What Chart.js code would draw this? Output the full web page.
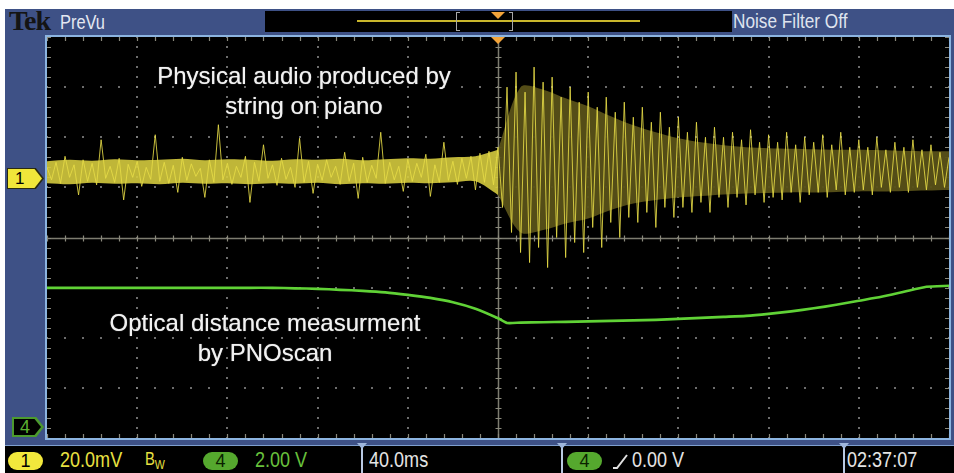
<!DOCTYPE html>
<html><head><meta charset="utf-8">
<script src="https://cdn.jsdelivr.net/npm/chart.js@4.4.0/dist/chart.umd.min.js"></script>
<style>
html,body{margin:0;padding:0;background:#fff;}
body{width:954px;height:473px;position:relative;overflow:hidden;font-family:"Liberation Sans",Arial,sans-serif;}
.abs{position:absolute;white-space:nowrap;}
.nar{transform:scaleX(0.82);transform-origin:0 50%;}
#scope{left:5px;top:9px;width:949px;height:464px;background:#3e5186;}
#frame{left:45px;top:35px;width:902px;height:401px;border:2px solid #8cb4e0;background:#000;}
#plot{left:47px;top:37px;width:902px;height:401px;}
#status{left:5px;top:445px;width:949px;height:28px;background:#000;border-top:1px solid #7f9fcf;}
.sep{top:446px;width:2px;height:27px;background:#b9c9e2;}
.notch{top:443px;width:0;height:0;border-left:5px solid transparent;border-right:5px solid transparent;border-top:6px solid #9fb6dc;}
.pill{top:452px;height:18px;width:35px;border-radius:9px;text-align:center;font-size:18px;line-height:19px;}
.st{top:447px;font-size:22px;line-height:25px;}
.note{color:#f2f2f2;font-family:"Liberation Sans",Arial,sans-serif;font-size:24px;text-align:center;text-shadow:0 0 1px rgba(255,255,255,.6);}
</style>
</head><body>
<div id="scope" class="abs"></div>
<!-- top bar -->
<div class="abs" style="left:9px;top:6px;font-family:'Liberation Serif',serif;font-weight:bold;font-size:28px;line-height:30px;color:#141414;letter-spacing:-1px;">Tek</div>
<div class="abs nar" style="left:60px;top:10px;font-size:20px;line-height:24px;color:#e4e8f2;">PreVu</div>
<div class="abs" style="left:265px;top:11px;width:467px;height:21px;background:#000;"></div>
<div class="abs" style="left:357px;top:20px;width:283px;height:2px;background:#c9b62b;"></div>
<div class="abs" style="left:456px;top:12px;width:3px;height:17px;border:1px solid #a8a8a8;border-right:none;"></div>
<div class="abs" style="left:509px;top:12px;width:3px;height:17px;border:1px solid #a8a8a8;border-left:none;"></div>
<div class="abs" style="left:491px;top:12px;width:0;height:0;border-left:7px solid transparent;border-right:7px solid transparent;border-top:7px solid #f3a43a;"></div>
<div class="abs nar" style="left:733px;top:9px;font-size:21px;line-height:24px;color:#dfe4ee;">Noise Filter Off</div>

<div id="frame" class="abs"></div>
<div id="plot" class="abs"><canvas id="c"></canvas></div>

<!-- channel markers -->
<div class="abs" style="left:7px;top:168px;width:37px;height:21px;background:#2a2a10;clip-path:polygon(0 0,78% 0,100% 50%,78% 100%,0 100%);"></div>
<div class="abs" style="left:8px;top:169px;width:34px;height:19px;background:#f0e63a;clip-path:polygon(0 0,78% 0,100% 50%,78% 100%,0 100%);font-size:17px;line-height:19px;color:#000;text-indent:7px;">1</div>
<div class="abs" style="left:12px;top:417px;width:32px;height:20px;background:#4c9a2e;clip-path:polygon(0 0,76% 0,100% 50%,76% 100%,0 100%);"></div>
<div class="abs" style="left:14px;top:419px;width:27px;height:16px;background:#000;clip-path:polygon(0 0,76% 0,100% 50%,76% 100%,0 100%);font-size:18px;line-height:17px;color:#5cb032;text-indent:6px;">4</div>

<!-- annotations -->
<div class="abs note" style="left:104px;top:61px;width:400px;line-height:30px;">Physical audio produced by<br>string on piano</div>
<div class="abs note" style="left:65px;top:308px;width:400px;line-height:30px;">Optical distance measurment<br>by PNOscan</div>

<!-- status bar -->
<div id="status" class="abs"></div>
<div class="abs pill" style="left:8px;background:#f2e83c;color:#000;">1</div>
<div class="abs st nar" style="left:60px;color:#e8e040;">20.0mV</div>
<div class="abs st nar" style="left:145px;color:#e8e040;font-size:18px;">B<sub style="font-size:13px;vertical-align:-4px;">W</sub></div>
<div class="abs pill" style="left:203px;background:#55a82e;color:#0a2200;">4</div>
<div class="abs st nar" style="left:255px;color:#68c03c;">2.00 V</div>
<div class="abs sep" style="left:361px;"></div><div class="abs notch" style="left:357px;"></div>
<div class="abs st nar" style="left:369px;color:#e4e4e4;">40.0ms</div>
<div class="abs sep" style="left:561px;"></div><div class="abs notch" style="left:557px;"></div>
<div class="abs pill" style="left:567px;background:#55a82e;color:#0a2200;">4</div>
<svg class="abs" style="left:612px;top:452px;" width="18" height="18"><polyline points="1,16 5,16 15,3" fill="none" stroke="#e0e0e0" stroke-width="2"/></svg>
<div class="abs st nar" style="left:632px;color:#e4e4e4;">0.00 V</div>
<div class="abs sep" style="left:843px;"></div><div class="abs notch" style="left:839px;"></div>
<div class="abs st nar" style="left:847px;color:#e4e4e4;">02:37:07</div>

<script>
// ---- data (vertical unit: screen divisions, 0 = centre line; time in ms, 0 = trigger) ----
const SAMPLE_MS = 2;          // channel 1 sample spacing
const T_START = -200;         // left edge of record, ms
const ch1Audio = [
 1.40,1.15,1.50,1.08,1.62,1.20,1.45,0.85,1.55,1.12,
 1.48,1.05,1.95,1.18,1.42,1.10,1.58,0.75,1.46,1.20,
 1.52,1.02,1.40,1.16,2.05,1.12,1.50,1.08,1.44,0.90,
 1.60,1.14,1.47,1.22,1.38,0.80,1.55,1.10,2.25,1.15,
 1.48,1.06,1.42,1.20,1.62,0.70,1.50,1.12,1.85,1.18,
 1.45,1.04,1.58,1.16,1.40,1.00,1.98,1.10,1.52,0.88,
 1.46,1.14,1.55,1.20,1.42,1.06,1.70,1.12,1.48,0.78,
 1.60,1.10,1.44,1.18,2.10,1.08,1.50,1.15,1.42,0.92,
 1.56,1.12,1.48,1.20,1.66,0.82,1.45,1.10,1.90,1.14,
 1.52,1.06,1.58,1.18,1.62,0.95,1.68,1.10,1.72,1.05,
 1.80,
 0.60,3.00,0.10,3.30,-0.30,2.90,-0.50,3.40,-0.20,3.10,
 -0.60,3.20,0.00,2.80,-0.40,3.00,-0.10,2.70,-0.30,2.90,
 0.20,2.60,-0.20,2.80,0.30,2.50,0.00,2.70,0.40,2.40,
 0.30,2.60,0.50,2.30,0.20,2.50,0.60,2.20,0.40,2.40,
 0.60,2.10,0.50,2.30,0.70,2.00,0.50,2.20,0.80,2.00,
 0.60,2.10,0.80,1.95,0.65,2.15,0.85,1.90,0.70,2.05,
 0.80,1.90,0.75,2.10,0.90,1.85,0.70,2.00,0.85,1.90,
 0.90,2.05,0.80,1.85,0.95,2.10,0.85,1.80,0.90,1.95,
 0.95,1.80,0.85,2.00,1.00,1.75,0.90,1.90,1.00,1.80,
 0.90,1.95,1.00,1.75,0.95,1.85,1.05,1.70,1.00,1.60
];
const envTimes = [-200,-190,-180,-170,-160,-150,-140,-130,-120,-110,-100,-90,-80,-70,-60,-50,-40,-30,-20,-10,
 0,10,20,30,40,50,60,70,80,90,100,110,120,130,140,150,160,170,180,190,200];
const envUpper = [1.52,1.55,1.53,1.56,1.54,1.55,1.57,1.54,1.56,1.55,1.53,1.56,1.55,1.57,1.54,1.56,1.58,1.57,1.60,1.62,
 1.75,3.00,2.95,2.78,2.62,2.42,2.24,2.10,1.98,1.90,1.84,1.80,1.78,1.77,1.76,1.75,1.75,1.74,1.73,1.72,1.72];
const envLower = [1.08,1.06,1.09,1.07,1.08,1.06,1.09,1.07,1.08,1.06,1.08,1.07,1.09,1.06,1.08,1.07,1.09,1.08,1.10,1.12,
 0.85,0.10,0.15,0.28,0.38,0.55,0.68,0.75,0.80,0.83,0.86,0.88,0.89,0.90,0.90,0.91,0.92,0.92,0.93,0.94,0.95];
const ch4Times = [-200,-190,-180,-170,-160,-150,-140,-130,-120,-110,-100,-90,-80,-70,-60,-50,-40,-30,-20,-10,
 0,4,10,20,30,40,50,60,70,80,90,100,110,120,130,140,150,160,170,180,190,200];
const ch4Optical = [-1.004,-1.004,-1.004,-1.004,-1.004,-1.004,-1.004,-1.004,-1.004,-1.004,-1.004,-1.014,-1.024,-1.044,-1.064,-1.094,-1.144,-1.204,-1.290,-1.420,
 -1.610,-1.705,-1.698,-1.690,-1.683,-1.673,-1.663,-1.653,-1.643,-1.623,-1.603,-1.583,-1.563,-1.523,-1.473,-1.413,-1.343,-1.263,-1.184,-1.084,-0.984,-0.964];

// ---- build chart ----
const pts = (ts, vs) => vs.map((v,i)=>({x:ts[i], y:v}));
const audioPts = ch1Audio.map((v,i)=>({x:T_START + i*SAMPLE_MS, y:v}));
const TRIG = envTimes.indexOf(0);

const gridPlugin = {
  id:'scopeGrid',
  beforeDatasetsDraw(chart){
    const {ctx, chartArea:a, scales:{x,y}} = chart;
    ctx.save();
    ctx.fillStyle = 'rgba(128,128,128,0.85)';
    for (let d=-160; d<=160; d+=40){ if(d===0) continue;
      const px = Math.round(x.getPixelForValue(d));
      for (let k=0;k<=40;k++){ const py=Math.round(y.getPixelForValue(-4+k*0.2)); ctx.fillRect(px-1,py-1,2,2); }
    }
    for (let v=-3; v<=3; v++){ if(v===0) continue;
      const py = Math.round(y.getPixelForValue(v));
      for (let k=0;k<=50;k++){ const px=Math.round(x.getPixelForValue(-200+k*8)); ctx.fillRect(px-1,py-1,2,2); }
    }
    ctx.strokeStyle = '#7d7c70'; ctx.lineWidth = 1.5;
    const cx = Math.round(x.getPixelForValue(0))+0.5, cy = Math.round(y.getPixelForValue(0))+0.5;
    ctx.beginPath(); ctx.moveTo(cx,a.top); ctx.lineTo(cx,a.bottom); ctx.moveTo(a.left,cy); ctx.lineTo(a.right,cy); ctx.stroke();
    ctx.lineWidth = 1.2; ctx.strokeStyle = '#8a897c';
    ctx.beginPath();
    for (let k=0;k<=40;k++){ const py=Math.round(y.getPixelForValue(-4+k*0.2))+0.5;
      ctx.moveTo(cx-3,py); ctx.lineTo(cx+3,py);
      ctx.moveTo(a.left,py); ctx.lineTo(a.left+4,py);
      ctx.moveTo(a.right,py); ctx.lineTo(a.right-4,py); }
    for (let k=0;k<=50;k++){ const px=Math.round(x.getPixelForValue(-200+k*8))+0.5;
      ctx.moveTo(px,cy-3); ctx.lineTo(px,cy+3);
      ctx.moveTo(px,a.top); ctx.lineTo(px,a.top+4);
      ctx.moveTo(px,a.bottom); ctx.lineTo(px,a.bottom-4); }
    ctx.stroke();
    ctx.restore();
  },
  afterDatasetsDraw(chart){
    const {ctx, chartArea:a, scales:{x}} = chart;
    const px = x.getPixelForValue(0);
    ctx.save(); ctx.fillStyle='#f3a43a';
    ctx.beginPath(); ctx.moveTo(px-7,a.top); ctx.lineTo(px+7,a.top); ctx.lineTo(px,a.top+7); ctx.closePath(); ctx.fill();
    ctx.restore();
  }
};

const lineBase = {pointRadius:0, borderWidth:0, tension:0.3, borderColor:'transparent'};
new Chart(document.getElementById('c'), {
  type:'line',
  data:{datasets:[
    {label:'CH4 optical', data:pts(ch4Times, ch4Optical), borderColor:'#60d236', borderWidth:2.6, pointRadius:0, tension:0.2, fill:false, order:0},
    {label:'CH1 audio', data:audioPts, borderColor:'rgba(230,220,70,0.85)', borderWidth:1, pointRadius:0, tension:0, fill:false, order:1},
    {...lineBase, label:'pre upper', data:pts(envTimes.slice(0,TRIG+1), envUpper.slice(0,TRIG+1)), fill:'+1', backgroundColor:'rgba(212,202,62,0.9)', order:2},
    {...lineBase, label:'pre lower', data:pts(envTimes.slice(0,TRIG+1), envLower.slice(0,TRIG+1)), fill:false, order:3},
    {...lineBase, label:'post upper', data:pts(envTimes.slice(TRIG), envUpper.slice(TRIG)), fill:'+1', backgroundColor:'rgba(88,81,24,0.95)', order:4},
    {...lineBase, label:'post lower', data:pts(envTimes.slice(TRIG), envLower.slice(TRIG)), fill:false, order:5}
  ]},
  options:{
    responsive:true, maintainAspectRatio:false, animation:false, devicePixelRatio:1,
    layout:{padding:0},
    plugins:{legend:{display:false}, tooltip:{enabled:false}, title:{display:false}},
    scales:{
      x:{type:'linear', min:-200, max:200, display:false},
      y:{type:'linear', min:-4, max:4, display:false}
    }
  },
  plugins:[gridPlugin]
});
</script>
</body></html>
